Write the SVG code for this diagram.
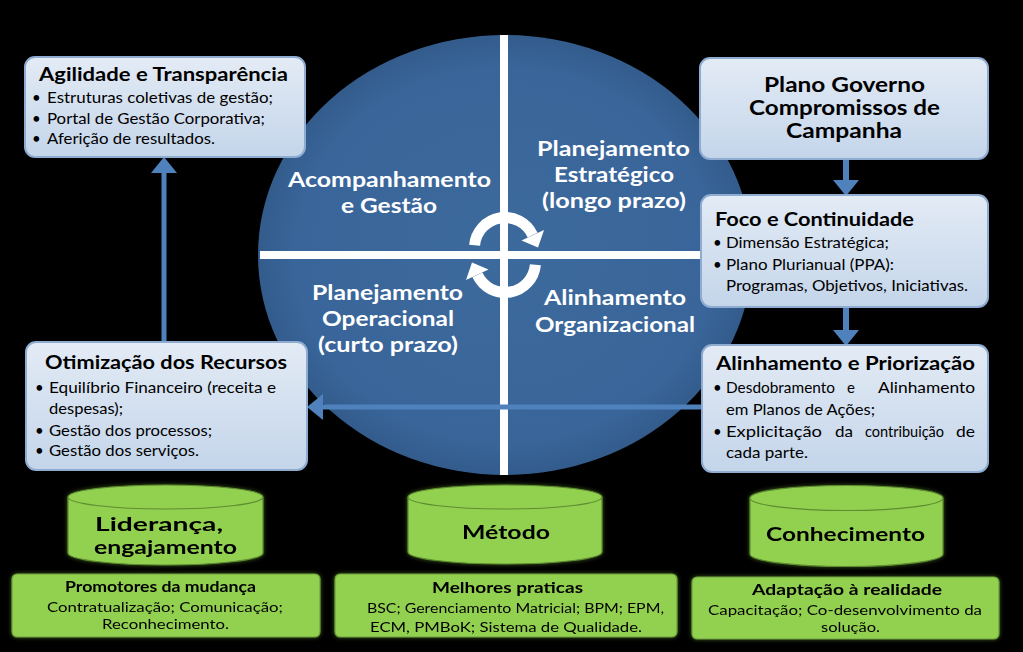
<svg xmlns="http://www.w3.org/2000/svg" width="1023" height="652" viewBox="0 0 1023 652">
<defs>
<linearGradient id="gBlue" x1="0" y1="0" x2="0" y2="1">
<stop offset="0" stop-color="#E3EBF5"/>
<stop offset="1" stop-color="#C4D5EA"/>
</linearGradient>
<radialGradient id="gCircle" cx="0.5" cy="0.5" r="0.5">
<stop offset="0" stop-color="#3D6A9C"/>
<stop offset="0.85" stop-color="#39659A"/>
<stop offset="1" stop-color="#335C8C"/>
</radialGradient>
<filter id="glow" x="-10%" y="-20%" width="120%" height="140%">
<feGaussianBlur in="SourceAlpha" stdDeviation="2" result="b"/>
<feFlood flood-color="#79B83C" flood-opacity="0.5"/>
<feComposite in2="b" operator="in" result="g"/>
<feMerge><feMergeNode in="g"/><feMergeNode in="SourceGraphic"/></feMerge>
</filter>
<marker id="ah" markerUnits="userSpaceOnUse" markerWidth="16" markerHeight="26" viewBox="0 0 16 26" refX="0" refY="13" orient="auto">
<path d="M0,0 L16,13 L0,26 Z" fill="#4F81BD"/>
</marker>
</defs>
<style>
.box{fill:url(#gBlue);stroke:#8EABD0;stroke-width:2}
.gbox{fill:#92D050;stroke:#6E9F3A;stroke-width:1.2}
.cyl{fill:#92D050;stroke:#5F8D30;stroke-width:1.2}
.t{font-family:Lato,"Open Sans",sans-serif;fill:#000}
.h{font-weight:bold;font-size:19px}
.b{font-size:15px}
.w{font-family:Lato,"Open Sans",sans-serif;fill:#fff;font-weight:bold;font-size:21px}
.cy{font-weight:bold;font-size:19px}
.gh{font-weight:bold;font-size:15px}
.gb{font-size:14px}
.conn{stroke:#4F81BD;fill:none;marker-end:url(#ah)}
</style>
<rect width="1023" height="652" fill="#000"/>

<g id="cycle">
<ellipse cx="505" cy="255" rx="247" ry="220" fill="url(#gCircle)"/>
<rect x="500" y="35" width="8" height="440" fill="#fff"/>
<rect x="260" y="251" width="442" height="8" fill="#fff"/>
<g id="cyclearrows" fill="#fff">
<g>
<path d="M474.6,245.3 A30.5,30.5 0 0 1 532.6,235.1" stroke="#fff" stroke-width="11" fill="none"/>
<path d="M544,230 L521.5,240.5 L538,247.5 Z"/>
</g>
<g transform="rotate(180 505 255)">
<path d="M474.6,245.3 A30.5,30.5 0 0 1 532.6,235.1" stroke="#fff" stroke-width="11" fill="none"/>
<path d="M544,230 L521.5,240.5 L538,247.5 Z"/>
</g>
</g>
<text class="w" x="288" y="187" textLength="203" lengthAdjust="spacingAndGlyphs">Acompanhamento</text>
<text class="w" x="341" y="213" textLength="96" lengthAdjust="spacingAndGlyphs">e Gestão</text>
<text class="w" x="537" y="156" textLength="153" lengthAdjust="spacingAndGlyphs">Planejamento</text>
<text class="w" x="554" y="182" textLength="120" lengthAdjust="spacingAndGlyphs">Estratégico</text>
<text class="w" x="542" y="208" textLength="144" lengthAdjust="spacingAndGlyphs">(longo prazo)</text>
<text class="w" x="312" y="300" textLength="151" lengthAdjust="spacingAndGlyphs">Planejamento</text>
<text class="w" x="322" y="326" textLength="132" lengthAdjust="spacingAndGlyphs">Operacional</text>
<text class="w" x="318" y="352" textLength="140" lengthAdjust="spacingAndGlyphs">(curto prazo)</text>
<text class="w" x="544" y="305" textLength="142" lengthAdjust="spacingAndGlyphs">Alinhamento</text>
<text class="w" x="535" y="332" textLength="160" lengthAdjust="spacingAndGlyphs">Organizacional</text>
</g>

<g id="connectors">
<path class="conn" d="M164,342 L164,173" stroke-width="5"/>
<path class="conn" d="M846,159 L846,180" stroke-width="6"/>
<path class="conn" d="M846,307 L846,330" stroke-width="6"/>
<path class="conn" d="M702,407 L323,407" stroke-width="5"/>
</g>

<g id="agilidade">
<rect class="box" x="25" y="57" width="280" height="100" rx="10"/>
<text class="t h" x="39" y="81" textLength="249" lengthAdjust="spacingAndGlyphs">Agilidade e Transparência</text>
<text class="t b" x="32" y="103">•</text>
<text class="t b" x="47" y="103" textLength="226" lengthAdjust="spacingAndGlyphs">Estruturas coletivas de gestão;</text>
<text class="t b" x="32" y="124">•</text>
<text class="t b" x="47" y="124" textLength="218" lengthAdjust="spacingAndGlyphs">Portal de Gestão Corporativa;</text>
<text class="t b" x="32" y="144">•</text>
<text class="t b" x="47" y="144" textLength="168" lengthAdjust="spacingAndGlyphs">Aferição de resultados.</text>
</g>

<g id="plano">
<rect class="box" x="700" y="58" width="288" height="101" rx="10"/>
<text class="t" font-weight="bold" font-size="21" x="764" y="92" textLength="161" lengthAdjust="spacingAndGlyphs">Plano Governo</text>
<text class="t" font-weight="bold" font-size="21" x="749" y="115" textLength="191" lengthAdjust="spacingAndGlyphs">Compromissos de</text>
<text class="t" font-weight="bold" font-size="21" x="786" y="138" textLength="116" lengthAdjust="spacingAndGlyphs">Campanha</text>
</g>

<g id="foco">
<rect class="box" x="701" y="195" width="287" height="112" rx="10"/>
<text class="t h" x="715" y="226" textLength="199" lengthAdjust="spacingAndGlyphs">Foco e Continuidade</text>
<text class="t b" x="713" y="248">•</text>
<text class="t b" x="726" y="248" textLength="163" lengthAdjust="spacingAndGlyphs">Dimensão Estratégica;</text>
<text class="t b" x="713" y="270">•</text>
<text class="t b" x="726" y="270" textLength="168" lengthAdjust="spacingAndGlyphs">Plano Plurianual (PPA):</text>
<text class="t b" x="726" y="291" textLength="242" lengthAdjust="spacingAndGlyphs">Programas, Objetivos, Iniciativas.</text>
</g>

<g id="alinhamento">
<rect class="box" x="702" y="345" width="286" height="127" rx="10"/>
<text class="t h" x="716" y="370" textLength="259" lengthAdjust="spacingAndGlyphs">Alinhamento e Priorização</text>
<text class="t b" x="713" y="393">•</text>
<text class="t b" x="726" y="393" textLength="109" lengthAdjust="spacingAndGlyphs">Desdobramento</text>
<text class="t b" x="847" y="393">e</text>
<text class="t b" x="878" y="393" textLength="97" lengthAdjust="spacingAndGlyphs">Alinhamento</text>
<text class="t b" x="726" y="415" textLength="149" lengthAdjust="spacingAndGlyphs">em Planos de Ações;</text>
<text class="t b" x="713" y="437">•</text>
<text class="t b" x="726" y="437" textLength="96" lengthAdjust="spacingAndGlyphs">Explicitação</text>
<text class="t b" x="835" y="437" textLength="18" lengthAdjust="spacingAndGlyphs">da</text>
<text class="t b" x="865" y="437" textLength="79" lengthAdjust="spacingAndGlyphs">contribuição</text>
<text class="t b" x="956" y="437" textLength="19" lengthAdjust="spacingAndGlyphs">de</text>
<text class="t b" x="726" y="458" textLength="82" lengthAdjust="spacingAndGlyphs">cada parte.</text>
</g>

<g id="otimizacao">
<rect class="box" x="26" y="342" width="281" height="128" rx="10"/>
<text class="t h" x="45" y="369" textLength="242" lengthAdjust="spacingAndGlyphs">Otimização dos Recursos</text>
<text class="t b" x="35" y="393">•</text>
<text class="t b" x="49" y="393" textLength="227" lengthAdjust="spacingAndGlyphs">Equilíbrio Financeiro (receita e</text>
<text class="t b" x="49" y="414" textLength="74" lengthAdjust="spacingAndGlyphs">despesas);</text>
<text class="t b" x="35" y="436">•</text>
<text class="t b" x="49" y="436" textLength="163" lengthAdjust="spacingAndGlyphs">Gestão dos processos;</text>
<text class="t b" x="35" y="456">•</text>
<text class="t b" x="49" y="456" textLength="150" lengthAdjust="spacingAndGlyphs">Gestão dos serviços.</text>
</g>

<g id="lideranca" filter="url(#glow)">
<path class="cyl" d="M68,497 L68,553 A97.5,12 0 0 0 263,553 L263,497"/>
<ellipse class="cyl" cx="165.5" cy="497" rx="97.5" ry="12"/>
<text class="t cy" x="95" y="531" textLength="128" lengthAdjust="spacingAndGlyphs">Liderança,</text>
<text class="t cy" x="94" y="554" textLength="143" lengthAdjust="spacingAndGlyphs">engajamento</text>
</g>
<g id="metodo" filter="url(#glow)">
<path class="cyl" d="M408,497 L408,552 A97,12 0 0 0 602,552 L602,497"/>
<ellipse class="cyl" cx="505" cy="497" rx="97" ry="12"/>
<text class="t cy" font-size="21" x="462" y="539" textLength="88" lengthAdjust="spacingAndGlyphs">Método</text>
</g>
<g id="conhecimento" filter="url(#glow)">
<path class="cyl" d="M750,498 L750,554 A96.5,12.5 0 0 0 943,554 L943,498"/>
<ellipse class="cyl" cx="846.5" cy="498" rx="96.5" ry="12.5"/>
<text class="t cy" font-size="21" x="766" y="541" textLength="159" lengthAdjust="spacingAndGlyphs">Conhecimento</text>
</g>

<g id="promotores" filter="url(#glow)">
<rect class="gbox" x="12" y="574" width="308" height="63" rx="5"/>
<text class="t gh" x="65" y="592" textLength="191" lengthAdjust="spacingAndGlyphs">Promotores da mudança</text>
<text class="t gb" x="47" y="612" textLength="236" lengthAdjust="spacingAndGlyphs">Contratualização; Comunicação;</text>
<text class="t gb" x="102" y="629" textLength="127" lengthAdjust="spacingAndGlyphs">Reconhecimento.</text>
</g>
<g id="melhores" filter="url(#glow)">
<rect class="gbox" x="335" y="574" width="342" height="63" rx="5"/>
<text class="t gh" x="432" y="593" textLength="151" lengthAdjust="spacingAndGlyphs">Melhores praticas</text>
<text class="t gb" x="367" y="613" textLength="297" lengthAdjust="spacingAndGlyphs">BSC; Gerenciamento Matricial; BPM; EPM,</text>
<text class="t gb" x="370" y="632" textLength="272" lengthAdjust="spacingAndGlyphs">ECM, PMBoK; Sistema de Qualidade.</text>
</g>
<g id="adaptacao" filter="url(#glow)">
<rect class="gbox" x="692" y="577" width="307" height="62" rx="5"/>
<text class="t gh" x="752" y="595" textLength="190" lengthAdjust="spacingAndGlyphs">Adaptação à realidade</text>
<text class="t gb" x="708" y="615" textLength="274" lengthAdjust="spacingAndGlyphs">Capacitação; Co-desenvolvimento da</text>
<text class="t gb" x="821" y="632" textLength="59" lengthAdjust="spacingAndGlyphs">solução.</text>
</g>
</svg>
